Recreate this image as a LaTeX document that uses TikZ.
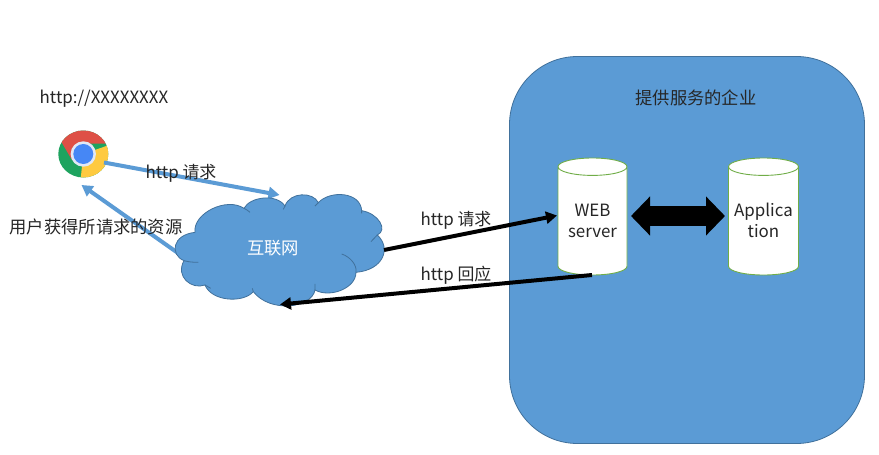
\documentclass[tikz,border=0pt]{standalone}
\usepackage{fontspec}
\setmainfont{Noto Sans CJK SC}
\usetikzlibrary{arrows.meta}
\definecolor{panelblue}{HTML}{5B9BD5}
\definecolor{paneledge}{HTML}{41719C}
\definecolor{cylgreen}{HTML}{70AD47}
\definecolor{chromegreen}{RGB}{30,163,95}
\definecolor{chromeyellow}{RGB}{254,202,64}
\definecolor{chromered}{RGB}{222,80,70}
\definecolor{chromeblue}{RGB}{70,135,245}
\definecolor{chromering}{RGB}{225,232,245}
\tikzset{
  txt/.style={font=\fontsize{17.3}{21}\selectfont,text=black!85,align=center,inner sep=0pt},
  lat/.style={txt,font=\fontsize{16.9}{21}\selectfont},
  cylbody/.style={minimum width=69pt,minimum height=117pt,inner sep=0pt,txt},
  bluearrow/.style={draw=panelblue,line width=4pt,-{Triangle[length=11pt,width=12pt]}},
  blackarrow/.style={draw=black,line width=4pt,-{Triangle[length=11pt,width=12pt]}},
  bigarrow/.style={draw=black,line width=20pt,{Triangle[length=19pt,width=38pt]}-{Triangle[length=19pt,width=38pt]}},
  cylline/.style={draw=cylgreen,line width=0.9pt}
}
\newcommand{\cylshape}[2]{% left, right
  \path[fill=white] (#1,166.7) arc[start angle=180,end angle=360,x radius={(#2-#1)/2},y radius=8.7]
    -- (#2,266.3) arc[start angle=0,end angle=180,x radius={(#2-#1)/2},y radius=8.7] -- cycle;
  \draw[cylline] (#1,166.7) arc[start angle=180,end angle=-180,x radius={(#2-#1)/2},y radius=8.7]
    (#1,166.7) -- (#1,266.3) arc[start angle=180,end angle=0,x radius={(#2-#1)/2},y radius=8.7] -- (#2,166.7);
}
\begin{document}
\begin{tikzpicture}[x=1pt,y=-1pt]
\useasboundingbox[fill=white] (0,0) rectangle (879,455);
% panel
\path[fill=panelblue,draw=paneledge,line width=0.8pt,rounded corners=68pt] (509.5,56.5) rectangle (864.5,443.5);
\node[txt] (company) at (696,98) {提供服务的企业};
% cylinders
\cylshape{558}{627}
\cylshape{728.5}{798.5}
\node[cylbody] (web) at (592.5,216.5) {};
\node[cylbody,minimum width=70pt] (app) at (763.5,216.5) {};
\node[lat] (webtext) at (592.5,220.5) {WEB\\server};
\node[lat] (apptext) at (763.5,220.5) {Applica\\tion};
\coordinate (wa) at (631,216);
\coordinate (aa) at (725,216);
\draw[bigarrow] (wa) -- (aa);
% chrome icon
\begin{scope}
\clip (83.3,154) ellipse [x radius=25,y radius=23.5];
\fill[chromegreen] (55,125) rectangle (112,182);
\fill[chromeyellow] (83.3,154) -- (115,143) -- (115,185) -- (80,185) -- cycle;
\fill[chromered] (62,143) -- (72,160) -- (83.3,143.5) -- (115,143.5) -- (115,120) -- (50,120) -- cycle;
\end{scope}
\fill[chromering] (83.3,154) circle (12.7);
\fill[chromeblue] (83.3,154) circle (10);
% arrows behind the cloud
\coordinate (chromeout) at (104,162.5);
\coordinate (cloudin) at (279.5,195);
\coordinate (cloudout) at (185,258);
\coordinate (chromein) at (81.5,185);
\draw[bluearrow] (chromeout) -- (cloudin);
\draw[bluearrow] (cloudout) -- (chromein);
% cloud
\begin{scope}[shift={(170,180)},x=0.3333pt,y=-0.3333pt]
\path[fill=panelblue,draw=paneledge,line width=0.8pt]
 (75,157) .. controls (68,100) and (170,50) .. (222,85)
 .. controls (240,50) and (320,40) .. (345,78)
 .. controls (360,35) and (430,35) .. (445,68)
 .. controls (480,30) and (572,35) .. (575,92)
 .. controls (625,100) and (655,150) .. (622,165)
 .. controls (665,205) and (640,270) .. (558,277)
 .. controls (558,325) and (480,355) .. (435,330)
 .. controls (425,385) and (300,400) .. (250,335)
 .. controls (220,370) and (125,365) .. (105,315)
 .. controls (65,330) and (15,290) .. (42,242)
 .. controls (0,225) and (5,165) .. (75,157) -- cycle;
\draw[paneledge,line width=0.8pt]
 (42,242) .. controls (55,246) and (70,247) .. (85,247)
 (222,85) .. controls (228,88) and (235,92) .. (240,97)
 (345,78) -- (340,88)
 (445,68) -- (435,78)
 (575,92) -- (575,100)
 (622,165) -- (603,185)
 (558,277) .. controls (562,255) and (540,230) .. (515,222)
 (435,330) -- (435,312)
 (250,335) -- (247,325)
 (105,315) -- (122,325);
\end{scope}
\node[txt,text=white] (cloudlabel) at (273,248) {互联网};
\coordinate (c1) at (384,250);
\coordinate (c2) at (557,215.5);
\coordinate (c3) at (592,275);
\coordinate (c4) at (280,304.5);
\draw[blackarrow] (c1) -- (c2);
\draw[blackarrow] (c3) -- (c4);
\node[lat] (url) at (104,99) {http://XXXXXXXX};
\node[lat] (req1) at (181,173) {http 请求};
\node[txt] (res) at (96,227) {用户获得所请求的资源};
\node[lat] (req2) at (456,220) {http 请求};
\node[lat] (resp) at (456,275) {http 回应};
\end{tikzpicture}
\end{document}
